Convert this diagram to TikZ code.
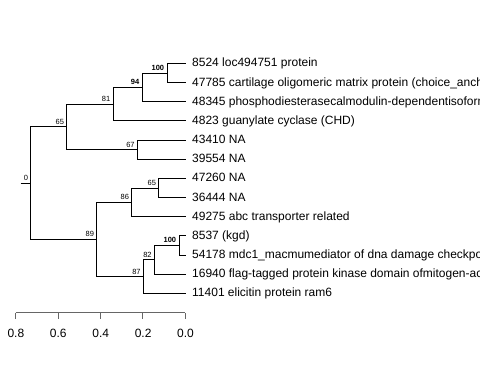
\documentclass[tikz,border=0pt]{standalone}
\usepackage{fontspec}
\setmainfont{Liberation Sans}
\begin{document}
\begin{tikzpicture}[x=1pt,y=-1pt,
  br/.style={line width=0.8pt, black},
  leaf/.style={anchor=base west, inner sep=0pt, font=\fontsize{12}{14}\selectfont},
  bs/.style={anchor=base east, inner sep=0pt, font=\fontsize{7.5}{8}\selectfont},
  bsb/.style={anchor=base east, inner sep=0pt, font=\fontsize{7.5}{8}\selectfont\bfseries},
  ax/.style={line width=0.9pt, black!60},
  axl/.style={anchor=base, inner sep=0pt, font=\fontsize{12}{14}\selectfont}]
\useasboundingbox (0,0) rectangle (480,384);
% tips
\coordinate (t0) at (186,63.30);
\coordinate (t1) at (186,82.47);
\coordinate (t2) at (186,101.64);
\coordinate (t3) at (186,120.81);
\coordinate (t4) at (186,139.98);
\coordinate (t5) at (186,159.15);
\coordinate (t6) at (186,178.32);
\coordinate (t7) at (186,197.49);
\coordinate (t8) at (186,216.66);
\coordinate (t9) at (186,235.83);
\coordinate (t10) at (186,255.00);
\coordinate (t11) at (186,274.17);
\coordinate (t12) at (186,293.34);
% internal nodes
\coordinate (n100a) at (167,72.9);
\coordinate (n94) at (142,87.27);
\coordinate (n81) at (113,104.04);
\coordinate (n67) at (137.3,149.57);
\coordinate (n65a) at (66.7,126.8);
\coordinate (n65b) at (158.7,187.9);
\coordinate (n86) at (131.7,202.28);
\coordinate (n100b) at (179,245.4);
\coordinate (n82) at (154.3,259.8);
\coordinate (n87) at (143.3,276.57);
\coordinate (n89) at (96.7,239.4);
\coordinate (root) at (30.7,183.1);
\coordinate (rs) at (20.7,183.1);
% branches
\draw[br] (rs) -- (root);
\draw[br] (root) |- (n65a);
\draw[br] (root) |- (n89);
\draw[br] (n65a) |- (n81);
\draw[br] (n65a) |- (n67);
\draw[br] (n81) |- (n94);
\draw[br] (n81) |- (t3);
\draw[br] (n94) |- (n100a);
\draw[br] (n94) |- (t2);
\draw[br] (n100a) |- (t0);
\draw[br] (n100a) |- (t1);
\draw[br] (n67) |- (t4);
\draw[br] (n67) |- (t5);
\draw[br] (n89) |- (n86);
\draw[br] (n89) |- (n87);
\draw[br] (n86) |- (n65b);
\draw[br] (n86) |- (t8);
\draw[br] (n65b) |- (t6);
\draw[br] (n65b) |- (t7);
\draw[br] (n87) |- (n82);
\draw[br] (n87) |- (t12);
\draw[br] (n82) |- (n100b);
\draw[br] (n82) |- (t11);
\draw[br] (n100b) |- (t9);
\draw[br] (n100b) |- (t10);
% leaf labels
\node[leaf] (l0) at (192,66.9) {8524 loc494751 protein};
\node[leaf] (l1) at (192,86.07) {47785 cartilage oligomeric matrix protein (choice\_anch};
\node[leaf] (l2) at (192,105.24) {48345 phosphodiesterasecalmodulin-dependentisoform};
\node[leaf] (l3) at (192,124.41) {4823 guanylate cyclase (CHD)};
\node[leaf] (l4) at (192,143.58) {43410 NA};
\node[leaf] (l5) at (192,162.75) {39554 NA};
\node[leaf] (l6) at (192,181.92) {47260 NA};
\node[leaf] (l7) at (192,201.09) {36444 NA};
\node[leaf] (l8) at (192,220.26) {49275 abc transporter related};
\node[leaf] (l9) at (192,239.43) {8537 (kgd)};
\node[leaf] (l10) at (192,258.6) {54178 mdc1\_macmumediator of dna damage checkpo};
\node[leaf] (l11) at (192,277.77) {16940 flag-tagged protein kinase domain ofmitogen-ac};
\node[leaf] (l12) at (192,296.94) {11401 elicitin protein ram6};
% support values
\node[bs] (b0) at (28.2,180.6) {0};
\node[bs] (b65a) at (64.2,124.3) {65};
\node[bs] (b81) at (110.5,101.5) {81};
\node[bsb] (b94) at (139.5,84.8) {94};
\node[bsb] (b100a) at (164.3,70.4) {100};
\node[bs] (b67) at (134.8,147.1) {67};
\node[bs] (b89) at (94.2,236.9) {89};
\node[bs] (b86) at (129.2,199.8) {86};
\node[bs] (b65b) at (156.2,185.4) {65};
\node[bsb] (b100b) at (176.3,242.9) {100};
\node[bs] (b82) at (151.8,257.3) {82};
\node[bs] (b87) at (140.8,274.1) {87};
% axis
\coordinate (a8) at (15.7,312.8);
\coordinate (a6) at (58.1,312.8);
\coordinate (a4) at (100.5,312.8);
\coordinate (a2) at (142.9,312.8);
\coordinate (a0) at (185.3,312.8);
\draw[ax] (a8) -- (a0);
\foreach \p in {a8,a6,a4,a2,a0} \draw[ax] (\p) -- ++(0,6);
\node[axl] (x8) at (15.9,337.8) {0.8};
\node[axl] (x6) at (58.3,337.8) {0.6};
\node[axl] (x4) at (100.7,337.8) {0.4};
\node[axl] (x2) at (143.1,337.8) {0.2};
\node[axl] (x0) at (185.5,337.8) {0.0};
\end{tikzpicture}
\end{document}
